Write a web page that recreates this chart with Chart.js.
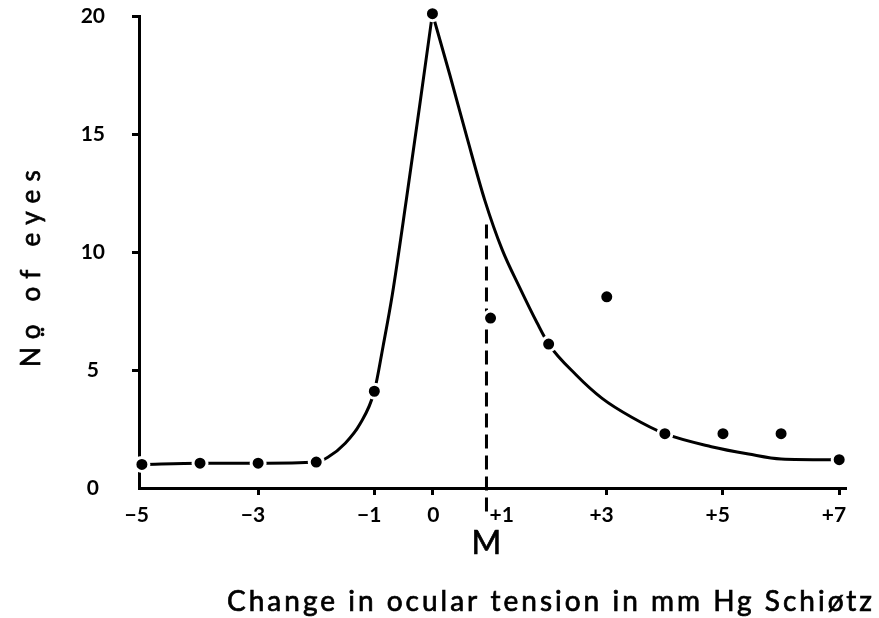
<!DOCTYPE html>
<html>
<head>
<meta charset="utf-8">
<script src="https://cdn.jsdelivr.net/npm/chart.js@4.4.1/dist/chart.umd.min.js"></script>
<style>
  html, body { margin: 0; padding: 0; background: #fff; }
  #wrap { width: 879px; height: 618px; }
</style>
</head>
<body>
<div id="wrap"><canvas id="tensionChart" width="879" height="618"></canvas></div>
<script>
// observed number of eyes per change in tension
const changes = [-5, -4, -3, -2, -1, 0, 1, 2, 3, 4, 5, 6, 7];
const eyes = [1.0, 1.05, 1.05, 1.1, 4.1, 20.1, 7.2, 6.1, 8.1, 2.3, 2.3, 2.3, 1.2];

// fitted curve, rising side up to the peak
const riseX = [-5, -4, -3, -2, -1.8, -1.5, -1.25, -1, -0.85, -0.69, -0.45, -0.22, 0];
const riseY = [1.0, 1.05, 1.05, 1.1, 1.3, 1.9, 2.7, 4.1, 6.0, 8.2, 12.2, 16.2, 20.1];

// fitted curve, falling side from the peak
const fallX = [0, 0.3, 0.6, 0.9, 1.2, 1.5, 1.8, 2, 2.47, 2.92, 3.43, 4, 4.8, 5.44, 6, 6.8, 7];
const fallY = [20.1, 17.5, 14.8, 12.2, 10.1, 8.5, 7.0, 6.1, 4.8, 3.8, 3.0, 2.3, 1.75, 1.44, 1.23, 1.2, 1.22];

// mean marker "M"
const meanX = 0.93;
const meanTop = 11.45;
const meanBottom = -1;

const xTicks = [-5, -3, -1, 0, 1, 3, 5, 7];
const xTickLabels = ['−5', '−3', '−1', '0', '+1', '+3', '+5', '+7'];
const yTicks = [0, 5, 10, 15, 20];

const toPoints = (xs, ys) => xs.map((x, i) => ({ x: x, y: ys[i] }));

// tick marks that sit on the axis corner or under the M line
const hiddenXMarks = [-5, 1];
const hiddenYMarks = [0];
// this label is set beside the M line instead of centred on its tick
const besideMean = 1;

const tickFont = { family: 'Lato', size: 21, weight: 'bold' };
const tickLen = 7;
const tickPad = 8;

function spreadText(ctx, text, width) {
    ctx.letterSpacing = '0px';
    const w = ctx.measureText(text).width;
    const sp = (width - w) / (text.length - 1);
    ctx.letterSpacing = sp + 'px';
}

function heavyText(ctx, text, x, y) {
    ctx.fillText(text, x, y);
    ctx.strokeText(text, x, y);
}

const labelsPlugin = {
    id: 'labelsPlugin',
    afterDraw(chart) {
        const { ctx } = chart;
        const xs = chart.scales.x;
        ctx.save();
        ctx.fillStyle = '#000';
        ctx.strokeStyle = '#000';
        ctx.lineWidth = 0.7;
        ctx.textBaseline = 'alphabetic';

        // x axis title
        ctx.font = '28px Lato';
        ctx.textAlign = 'left';
        const xTitle = 'Change in ocular tension in mm Hg Schiøtz';
        spreadText(ctx, xTitle, 645);
        heavyText(ctx, xTitle, 227, 611);

        // "+1" just right of the dashed line
        ctx.letterSpacing = '0px';
        ctx.font = 'bold 21px Lato';
        ctx.textBaseline = 'middle';
        ctx.fillText(xTickLabels[xTicks.indexOf(besideMean)],
            xs.getPixelForValue(besideMean) - 1,
            xs.top + tickLen + tickPad + tickFont.size * 0.6);

        // M under the dashed line
        ctx.textBaseline = 'alphabetic';
        ctx.font = '32px Lato';
        ctx.textAlign = 'center';
        heavyText(ctx, 'M', xs.getPixelForValue(meanX), 554);

        // y axis title
        ctx.translate(40, 265);
        ctx.rotate(-Math.PI / 2);
        ctx.font = '26px Lato';
        ctx.textAlign = 'left';
        const yTitle = 'No\u0324 of eyes';
        spreadText(ctx, yTitle, 205);
        heavyText(ctx, yTitle, -102, 0);
        ctx.restore();
    }
};

const ctx = document.getElementById('tensionChart').getContext('2d');
new Chart(ctx, {
    type: 'scatter',
    data: {
        datasets: [
            {
                label: 'Eyes',
                data: toPoints(changes, eyes),
                backgroundColor: '#000',
                borderColor: '#fff',
                borderWidth: 3,
                pointRadius: 7,
                clip: false,
                order: 0
            },
            {
                label: 'Rise',
                type: 'line',
                data: toPoints(riseX, riseY),
                borderColor: '#000',
                borderWidth: 3,
                pointRadius: 0,
                cubicInterpolationMode: 'monotone',
                fill: false,
                order: 1
            },
            {
                label: 'Fall',
                type: 'line',
                data: toPoints(fallX, fallY),
                borderColor: '#000',
                borderWidth: 3,
                pointRadius: 0,
                cubicInterpolationMode: 'monotone',
                fill: false,
                order: 1
            },
            {
                label: 'M',
                type: 'line',
                data: [{ x: meanX, y: meanBottom }, { x: meanX, y: meanTop }],
                borderColor: '#000',
                borderWidth: 3,
                borderDash: [14, 7],
                pointRadius: 0,
                clip: false,
                fill: false,
                order: 2
            }
        ]
    },
    options: {
        responsive: false,
        animation: false,
        layout: { padding: { left: 0, top: 16, right: 34, bottom: 0 } },
        plugins: {
            legend: { display: false },
            tooltip: { enabled: false }
        },
        scales: {
            x: {
                type: 'linear',
                min: -5.05,
                max: 7.1,
                afterBuildTicks: (scale) => { scale.ticks = xTicks.map(v => ({ value: v })); },
                afterFit: (scale) => {
                    scale.height = 130;
                    scale.paddingLeft = 0;
                    scale.paddingRight = 0;
                },
                border: { display: true, color: '#000', width: 3 },
                grid: {
                    drawOnChartArea: false,
                    drawTicks: true,
                    tickLength: tickLen,
                    lineWidth: 3,
                    color: (c) => (c.tick && hiddenXMarks.includes(c.tick.value)) ? 'rgba(0,0,0,0)' : '#000'
                },
                ticks: {
                    color: '#000',
                    font: tickFont,
                    align: 'end',
                    labelOffset: 7,
                    padding: tickPad,
                    maxRotation: 0,
                    autoSkip: false,
                    callback: (v) => v === besideMean ? '' : xTickLabels[xTicks.indexOf(v)]
                }
            },
            y: {
                type: 'linear',
                min: 0,
                max: 20,
                afterBuildTicks: (scale) => { scale.ticks = yTicks.map(v => ({ value: v })); },
                afterFit: (scale) => {
                    scale.width = 139;
                    scale.paddingTop = 0;
                    scale.paddingBottom = 0;
                },
                border: { display: true, color: '#000', width: 3 },
                grid: {
                    drawOnChartArea: false,
                    drawTicks: true,
                    tickLength: tickLen,
                    lineWidth: 3,
                    color: (c) => (c.tick && hiddenYMarks.includes(c.tick.value)) ? 'rgba(0,0,0,0)' : '#000'
                },
                ticks: {
                    color: '#000',
                    font: tickFont,
                    crossAlign: 'center',
                    padding: 27,
                    autoSkip: false
                }
            }
        }
    },
    plugins: [labelsPlugin]
});
</script>
</body>
</html>
